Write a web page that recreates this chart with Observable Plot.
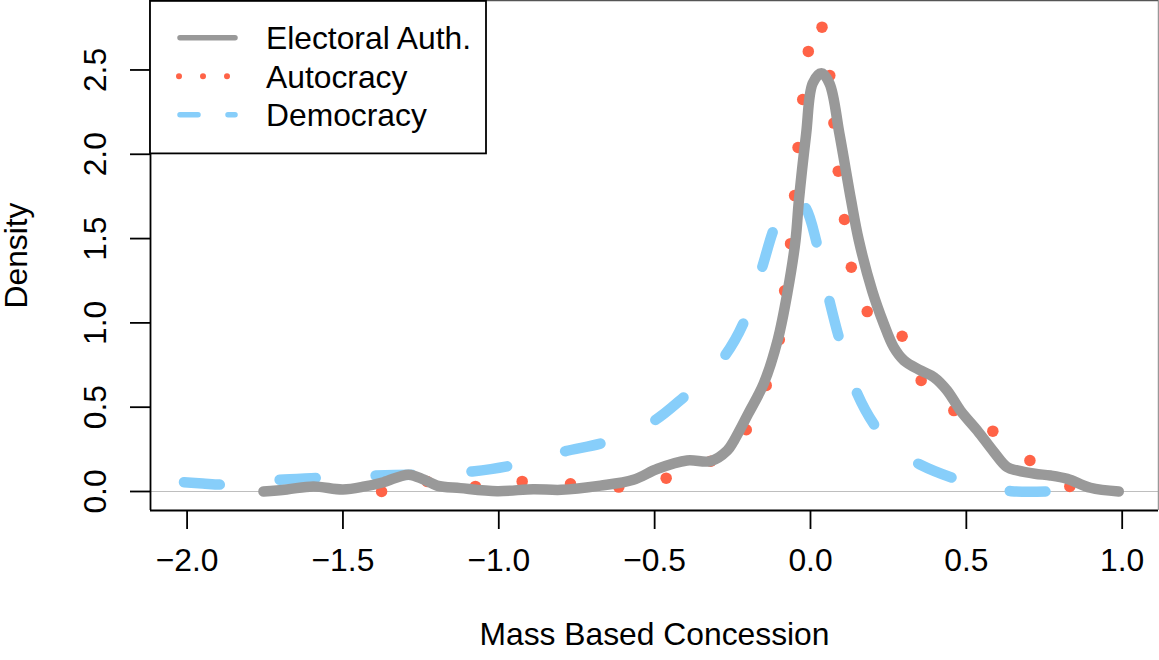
<!DOCTYPE html>
<html><head><meta charset="utf-8">
<script src="https://cdn.jsdelivr.net/npm/d3@7"></script>
<script src="https://cdn.jsdelivr.net/npm/@observablehq/plot@0.6"></script>
<style>
html,body{margin:0;padding:0;background:#fff;}
#wrap{position:relative;width:1159px;height:660px;font-family:"Liberation Sans",Arial,Helvetica,sans-serif;}
#wrap svg{position:absolute;left:0;top:0;}
</style></head><body><div id="wrap"></div>
<script>
// ---- data ----
const electoralX = [-1.755,-1.68,-1.595,-1.50,-1.43,-1.37,-1.29,-1.24,-1.198,-1.123,-1.005,-0.889,-0.80,-0.674,-0.568,-0.49,-0.396,-0.32,-0.267,-0.246,-0.20,-0.15,-0.105,-0.073,-0.048,-0.037,-0.014,0.007,0.035,0.061,0.093,0.13,0.155,0.198,0.235,0.267,0.30,0.353,0.396,0.438,0.481,0.535,0.588,0.631,0.663,0.72,0.77,0.824,0.898,0.989];
const electoralY = [0.0,0.012,0.03,0.012,0.03,0.055,0.10,0.07,0.035,0.02,0.002,0.014,0.01,0.035,0.07,0.135,0.184,0.18,0.243,0.30,0.46,0.64,0.90,1.19,1.49,1.73,2.12,2.42,2.48,2.42,2.12,1.73,1.49,1.19,0.995,0.856,0.777,0.718,0.678,0.60,0.48,0.362,0.235,0.144,0.125,0.105,0.095,0.075,0.022,0.0];

const autocracyX = [-1.376,-1.23,-1.075,-0.925,-0.77,-0.615,-0.463,-0.32,-0.206,-0.142,-0.10,-0.083,-0.064,-0.051,-0.04,-0.025,-0.007,0.037,0.062,0.075,0.089,0.109,0.131,0.182,0.294,0.355,0.46,0.585,0.704,0.832];
const autocracyY = [0.0,0.06,0.03,0.06,0.046,0.026,0.079,0.18,0.366,0.629,0.90,1.19,1.47,1.755,2.04,2.325,2.61,2.754,2.467,2.185,1.90,1.613,1.33,1.067,0.921,0.658,0.48,0.358,0.184,0.03];

const democracyX = [-2.01,-1.95,-1.89,-1.80,-1.706,-1.583,-1.49,-1.396,-1.273,-1.18,-1.085,-0.971,-0.88,-0.786,-0.668,-0.58,-0.497,-0.406,-0.34,-0.273,-0.216,-0.185,-0.155,-0.121,-0.09,-0.05,-0.014,0.019,0.04,0.062,0.091,0.12,0.15,0.203,0.27,0.351,0.455,0.55,0.644,0.754];
const democracyY = [0.055,0.048,0.041,0.055,0.069,0.081,0.09,0.095,0.10,0.105,0.119,0.15,0.19,0.239,0.287,0.35,0.425,0.56,0.67,0.81,0.995,1.16,1.33,1.54,1.68,1.75,1.677,1.48,1.30,1.123,0.915,0.74,0.58,0.40,0.25,0.16,0.081,0.03,0.002,0.0];

const seriesNames = ["Electoral Auth.","Autocracy","Democracy"];
const xTicks = [-2.0,-1.5,-1.0,-0.5,0.0,0.5,1.0];
const xTickLabels = ["\u22122.0","\u22121.5","\u22121.0","\u22120.5","0.0","0.5","1.0"];
const yTicks = [0.0,0.5,1.0,1.5,2.0,2.5];
const yTickLabels = ["0.0","0.5","1.0","1.5","2.0","2.5"];
const xTitle = "Mass Based Concession";
const yTitle = "Density";

// ---- build tables ----
const elect = electoralX.map((x,i)=>({x, y: electoralY[i]}));
const auto = autocracyX.map((x,i)=>({x, y: autocracyY[i]}));
const demo = democracyX.map((x,i)=>({x, y: democracyY[i]}));

const FONT = '"Liberation Sans", Arial, Helvetica, sans-serif';
const FS = 31.8;
const xDomain = [-2.1174, 1.1165];
const yDomain = [-0.1127, 2.912];

const chart = Plot.plot({
  width: 1159, height: 660,
  marginLeft: 150, marginRight: 1, marginTop: 0, marginBottom: 150,
  style: {fontFamily: FONT, fontSize: FS + "px", color: "#000", background: "transparent", overflow: "visible"},
  x: {domain: xDomain, label: null},
  y: {domain: yDomain, label: null},
  marks: [
    Plot.ruleY([0], {stroke: "#bebebe", strokeWidth: 1.2}),
    Plot.line(demo, {x: "x", y: "y", stroke: "#87CEFA", strokeWidth: 10.5, strokeDasharray: "36,60", strokeLinecap: "round", strokeLinejoin: "round", curve: "catmull-rom"}),
    Plot.dot(auto, {x: "x", y: "y", r: 5.75, fill: "#FF6347", stroke: null}),
    Plot.line(elect, {x: "x", y: "y", stroke: "#999999", strokeWidth: 10.5, strokeLinecap: "round", strokeLinejoin: "round", curve: "catmull-rom"}),
    Plot.ruleX([xDomain[0]], {stroke: "#000", strokeWidth: 1.8}),
    Plot.ruleY([yDomain[0]], {stroke: "#000", strokeWidth: 1.8}),
    Plot.ruleX([xDomain[1]], {stroke: "#999", strokeWidth: 1.5}),
    Plot.ruleY([yDomain[1]], {stroke: "#555", strokeWidth: 1.5}),
    Plot.axisX(xTicks, {anchor: "bottom", tickSize: 19, tickFormat: () => "", stroke: "#000", strokeWidth: 1.8, label: null}),
    Plot.axisY(yTicks, {anchor: "left", tickSize: 20, tickFormat: () => "", stroke: "#000", strokeWidth: 1.8, label: null}),
    Plot.text(xTicks, {x: d => d, text: (d, i) => xTickLabels[i], frameAnchor: "bottom", dy: 60, textAnchor: "middle", fontSize: FS, fill: "#000"}),
    Plot.text(yTicks, {y: d => d, text: (d, i) => yTickLabels[i], frameAnchor: "left", dx: -55, rotate: -90, textAnchor: "middle", fontSize: FS, fill: "#000"}),
    Plot.text([yTitle], {frameAnchor: "left", dx: -134, rotate: -90, textAnchor: "middle", fontSize: FS, fill: "#000"}),
    Plot.text([xTitle], {frameAnchor: "bottom", dy: 134, textAnchor: "middle", fontSize: FS, fill: "#000"})
  ]
});
const wrap = document.getElementById("wrap");
wrap.appendChild(chart);

// ---- legend (inside plot box, top-left) ----
const leg = d3.select(wrap).append("svg")
  .attr("width", 1159).attr("height", 660)
  .style("pointer-events", "none");
leg.append("rect").attr("x", 150).attr("y", 0.9).attr("width", 336).attr("height", 152.5)
  .attr("fill", "#fff").attr("stroke", "#000").attr("stroke-width", 1.8);
const legStyles = [
  {stroke: "#999999", width: 5.5, dash: null, x1: 180, x2: 235},
  {stroke: "#FF6347", width: 6, dash: "0,24", x1: 179, x2: 234},
  {stroke: "#87CEFA", width: 5.5, dash: "18,30", x1: 180, x2: 235}
];
const rowY = [37.7, 76.3, 114.7];
seriesNames.forEach((name, i) => {
  const s = legStyles[i];
  leg.append("line").attr("x1", s.x1).attr("x2", s.x2).attr("y1", rowY[i]).attr("y2", rowY[i])
    .attr("stroke", s.stroke).attr("stroke-width", s.width).attr("stroke-linecap", "round")
    .attr("stroke-dasharray", s.dash);
  leg.append("text").attr("x", 266).attr("y", rowY[i] + 11.3)
    .attr("font-family", FONT).attr("font-size", FS).attr("fill", "#000").text(name);
});
</script>
</body></html>
